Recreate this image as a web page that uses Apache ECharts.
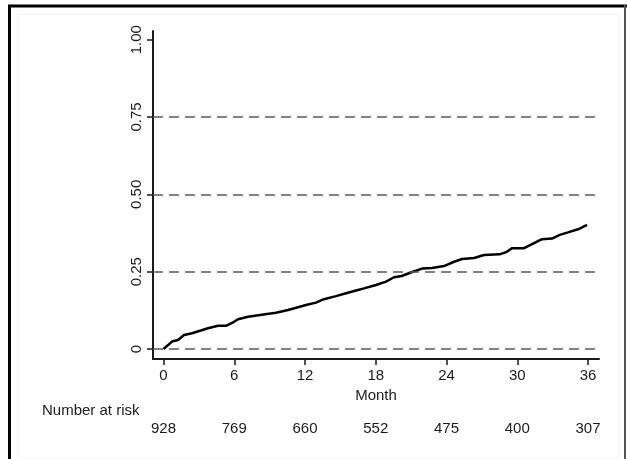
<!DOCTYPE html>
<html lang="en">
<head>
    <meta charset="UTF-8">
    <script src="https://cdn.jsdelivr.net/npm/echarts@6/dist/echarts.min.js"></script>
    <title>Cumulative incidence</title>
</head>
<body style="margin:0;background:#fff;">
<div id="main" style="width: 627px;height:459px;"></div>

<script type="text/javascript">
    // months and cumulative incidence
    var months = [0, 0.72, 1.23, 1.74, 2.42, 3.1, 3.77, 4.62, 5.3, 5.98, 6.32, 7.17, 8.18, 9.54, 10.56, 11.4,
        12.08, 12.93, 13.6, 14.63, 15.48, 16.33, 17.0, 18.02, 18.87, 19.55, 20.2, 21.08, 21.93, 22.77,
        23.79, 24.64, 25.32, 26.34, 27.18, 28.5, 29.05, 29.56, 30.58, 31.42, 32.1, 32.95, 33.6, 34.3,
        35.15, 35.92];
    var incidence = [0, 0.024, 0.029, 0.045, 0.051, 0.059, 0.067, 0.075, 0.075, 0.088, 0.096, 0.104, 0.11,
        0.117, 0.126, 0.135, 0.142, 0.15, 0.161, 0.171, 0.18, 0.189, 0.196, 0.207, 0.218, 0.232, 0.236,
        0.249, 0.26, 0.262, 0.268, 0.282, 0.291, 0.294, 0.304, 0.306, 0.313, 0.326, 0.326, 0.342, 0.355,
        0.357, 0.369, 0.377, 0.387, 0.401];
    var xTicks = [0, 6, 12, 18, 24, 30, 36];
    var yTicks = [0, 0.25, 0.5, 0.75, 1];
    var refLines = [0, 0.25, 0.5, 0.75];
    var atRisk = [928, 769, 660, 552, 475, 400, 307];

    var font = "'Liberation Sans', Arial, sans-serif";
    var ink = '#1a1a1a';

    var points = [];
    for (var i = 0; i < months.length; i++) {
        points.push([months[i], incidence[i]]);
    }

    var myChart = echarts.init(document.getElementById('main'));
    var option = {
        animation: false,
        backgroundColor: '#fff',
        title: {
            text: 'Number at risk',
            left: 42,
            top: 403,
            padding: 0,
            textStyle: {fontFamily: font, fontSize: 15, fontWeight: 'normal', color: ink}
        },
        graphic: [
            {type: 'rect', shape: {x: 18, y: 14, width: 601, height: 445}, style: {fill: 'none', stroke: '#f2f2f2', lineWidth: 1}},
            {type: 'line', shape: {x1: 8, y1: 6, x2: 627, y2: 6}, style: {stroke: '#000', lineWidth: 3}},
            {type: 'line', shape: {x1: 9.5, y1: 5, x2: 9.5, y2: 459}, style: {stroke: '#000', lineWidth: 3}},
            {type: 'line', shape: {x1: 625, y1: 5, x2: 625, y2: 459}, style: {stroke: '#555', lineWidth: 2}}
        ],
        grid: {
            left: 153,
            right: 28,
            top: 31,
            bottom: 100
        },
        xAxis: [
            {
                type: 'value',
                min: -0.89,
                max: 36.93,
                name: 'Month',
                nameLocation: 'middle',
                nameGap: 21,
                nameTextStyle: {fontFamily: font, fontSize: 15, color: ink},
                axisLine: {onZero: false, lineStyle: {color: ink, width: 2}},
                axisTick: {show: true, length: 6, customValues: xTicks, lineStyle: {color: ink, width: 1.5}},
                axisLabel: {customValues: xTicks, margin: 9, fontFamily: font, fontSize: 15, color: ink},
                splitLine: {show: false}
            },
            {
                type: 'value',
                position: 'bottom',
                offset: 53,
                min: -0.89,
                max: 36.93,
                axisLine: {show: false},
                axisTick: {show: false},
                axisLabel: {
                    customValues: xTicks,
                    margin: 9,
                    fontFamily: font,
                    fontSize: 15,
                    color: ink,
                    formatter: function (v) {
                        return atRisk[xTicks.indexOf(v)];
                    }
                },
                splitLine: {show: false}
            }
        ],
        yAxis: {
            type: 'value',
            min: -0.0323,
            max: 1.028,
            axisLine: {show: true, onZero: false, lineStyle: {color: ink, width: 2}},
            axisTick: {show: true, length: 6, customValues: yTicks, lineStyle: {color: ink, width: 1.5}},
            axisLabel: {
                customValues: yTicks,
                rotate: 90,
                margin: 9,
                fontFamily: font,
                fontSize: 15,
                color: ink,
                formatter: function (v) {
                    return v === 0 ? '0' : v.toFixed(2);
                }
            },
            splitLine: {show: false}
        },
        series: [
            {
                type: 'line',
                xAxisIndex: 0,
                data: points,
                showSymbol: false,
                lineStyle: {color: '#000', width: 2.5},
                markLine: {
                    silent: true,
                    symbol: 'none',
                    label: {show: false},
                    lineStyle: {color: '#595959', width: 1.5, type: [10, 6]},
                    data: refLines.map(function (v) { return {yAxis: v}; })
                }
            }
        ]
    };
    myChart.setOption(option);
</script>
</body>
</html>
